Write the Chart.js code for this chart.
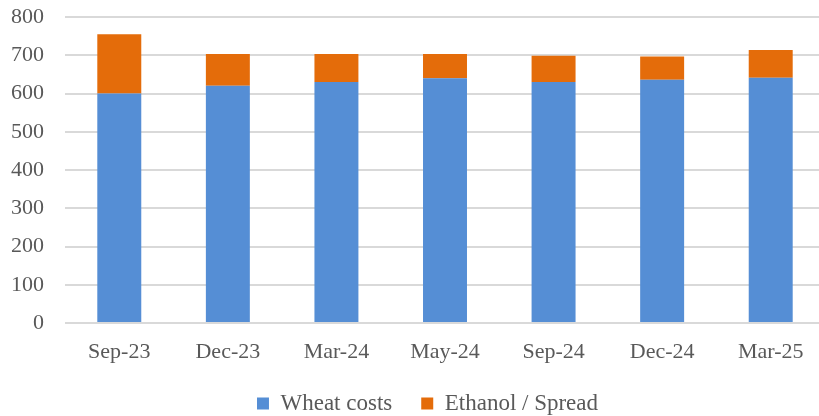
<!DOCTYPE html>
<html>
<head>
<meta charset="utf-8">
<script src="https://cdn.jsdelivr.net/npm/chart.js@4/dist/chart.umd.min.js"></script>
<style>
  html, body { margin: 0; padding: 0; background: #fff; overflow: hidden; }
  #wrap { width: 825px; height: 416px; }
</style>
</head>
<body>
<div id="wrap"><canvas id="costChart"></canvas></div>
<script>
const periods = ["Sep-23", "Dec-23", "Mar-24", "May-24", "Sep-24", "Dec-24", "Mar-25"];
const wheatCosts = [600, 620, 630, 640, 630, 636, 641];
const ethanolSpread = [155, 83, 73, 63, 69, 61, 73];
const yTicks = [0, 100, 200, 300, 400, 500, 600, 700, 800];

const textColor = "#595959";
const serif = "'Liberation Serif', 'Times New Roman', serif";

// nudge the legend a bit right of the canvas centre
const legendShift = {
  id: "legendShift",
  afterLayout(chart) {
    chart.legend.left += 15;
    chart.legend.right += 15;
  },
};

new Chart(document.getElementById("costChart"), {
  type: "bar",
  data: {
    labels: periods,
    datasets: [
      {
        label: "Wheat costs",
        data: wheatCosts,
        backgroundColor: "#558ed5",
        categoryPercentage: 1,
        barPercentage: 0.405,
      },
      {
        label: "Ethanol / Spread",
        data: ethanolSpread,
        backgroundColor: "#e46c0a",
        categoryPercentage: 1,
        barPercentage: 0.405,
      },
    ],
  },
  plugins: [legendShift],
  options: {
    responsive: true,
    maintainAspectRatio: false,
    animation: false,
    layout: { padding: { top: 17, bottom: -9, left: 0, right: 0 } },
    plugins: {
      tooltip: { enabled: false },
      legend: {
        position: "bottom",
        labels: {
          color: textColor,
          font: { family: serif, size: 23 },
          boxWidth: 12,
          boxHeight: 12,
          padding: 29,
        },
      },
    },
    scales: {
      x: {
        stacked: true,
        grid: { display: false, drawTicks: false },
        border: { display: false },
        ticks: {
          color: textColor,
          font: { family: serif, size: 22 },
          padding: 16,
          maxRotation: 0,
        },
        afterFit(scale) { scale.height = 40; },
      },
      y: {
        stacked: true,
        min: 0,
        max: 800,
        afterBuildTicks(scale) { scale.ticks = yTicks.map(v => ({ value: v })); },
        grid: { color: "#d9d9d9", lineWidth: 2, drawTicks: false },
        border: { display: false },
        ticks: {
          color: textColor,
          font: { family: serif, size: 22 },
          padding: 21,
        },
        afterFit(scale) {
          scale.width = 65;
          // the top label may overhang the plot; layout padding handles the gap
          scale.paddingTop = 0;
          scale.paddingBottom = 0;
        },
      },
    },
  },
});
</script>
</body>
</html>
